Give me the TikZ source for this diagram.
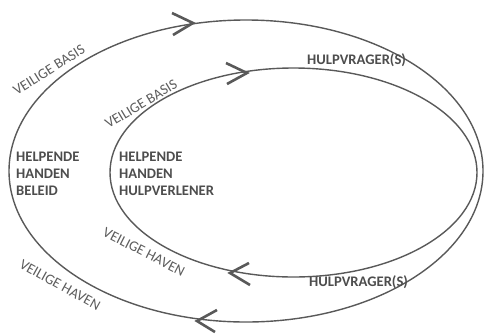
\documentclass[tikz,border=0pt]{standalone}
\usepackage{fontspec}
\setmainfont{Carlito}
\definecolor{ln}{HTML}{595959}
\definecolor{tx}{HTML}{4D4D4D}
\definecolor{tr}{HTML}{5C5C5C}
\begin{document}
\begin{tikzpicture}[x=1pt,y=-1pt,
  ring/.style={draw=ln,line width=1.4pt},
  chev/.style={draw=ln,line width=2.6pt,line join=miter},
  boldlbl/.style={text=tx,font=\fontsize{14.6}{17}\selectfont\bfseries,inner sep=0pt,align=left},
  reglbl/.style={text=tr,font=\fontsize{14.5}{16}\selectfont,inner sep=0pt}]
\useasboundingbox (0,0) rectangle (484,333);
\draw[ring] (246,171) ellipse [x radius=237pt, y radius=151pt];
\draw[ring] (293.5,172.5) ellipse [x radius=183.5pt, y radius=104.5pt];
% chevrons
\coordinate (o1) at (193,23);
\draw[chev] (172,13) -- (o1) -- (173,35);
\coordinate (i1) at (247,73);
\draw[chev] (226,63) -- (i1) -- (227,84);
\coordinate (i2) at (230,273);
\draw[chev] (249,263) -- (i2) -- (250,285);
\coordinate (o2) at (197,321);
\draw[chev] (217,310) -- (o2) -- (215,332);
% labels
\node[reglbl,rotate=32] (vb1) at (49,70) {VEILIGE BASIS};
\node[reglbl,rotate=31] (vb2) at (141,104) {VEILIGE BASIS};
\node[reglbl,rotate=-27] (vh2) at (144,252) {VEILIGE HAVEN};
\node[reglbl,rotate=-29] (vh1) at (60,285) {VEILIGE HAVEN};
\node[boldlbl,anchor=west] (hv1) at (307,60) {HULPVRAGER(S)};
\node[boldlbl,anchor=west] (hv2) at (309,282) {HULPVRAGER(S)};
\node[boldlbl,anchor=north west] (hb) at (16,152) {HELPENDE\\HANDEN\\BELEID};
\node[boldlbl,anchor=north west] (hh) at (119,152) {HELPENDE\\HANDEN\\HULPVERLENER};
\end{tikzpicture}
\end{document}
